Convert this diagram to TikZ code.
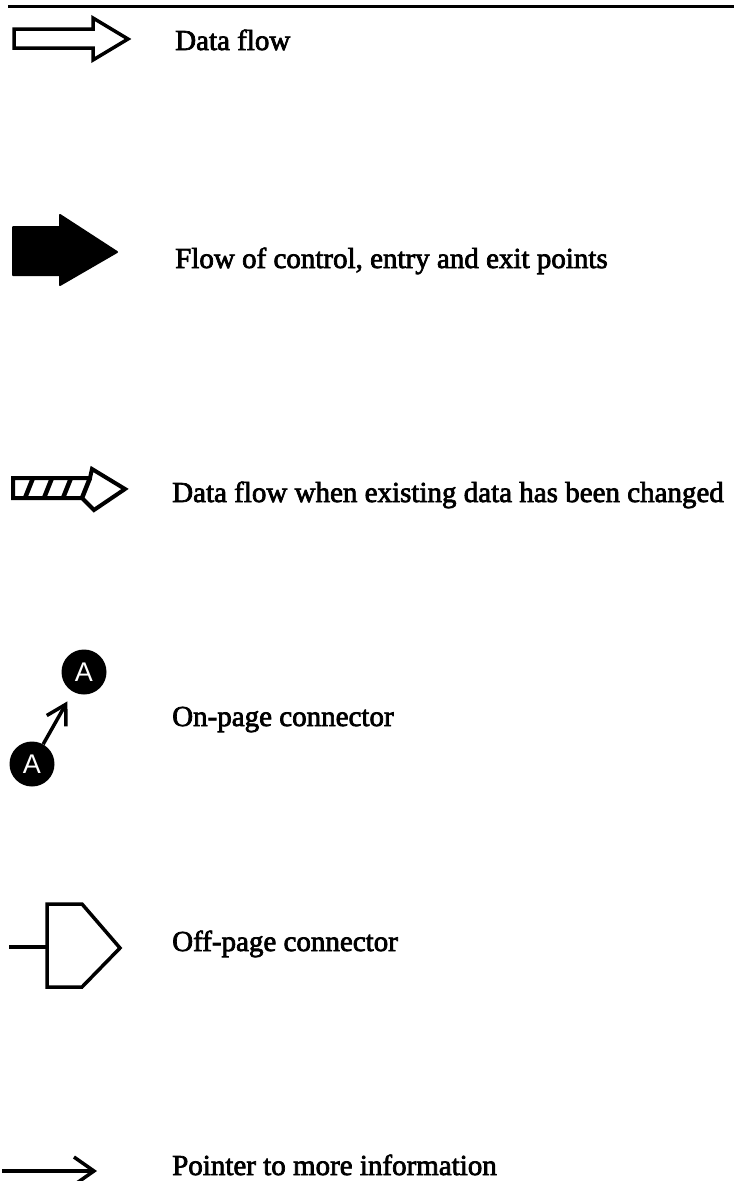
\documentclass[tikz,border=0pt]{standalone}
\usepackage{fontspec}
\newfontfamily\labfont{Liberation Serif}[FakeBold=2.5]
\newfontfamily\connfont{Liberation Sans}
\usetikzlibrary{arrows.meta}
\begin{document}
\begin{tikzpicture}[x=1pt,y=-1pt,
  lab/.style={anchor=base west, inner sep=0pt, font=\labfont\fontsize{29}{34}\selectfont},
  conn/.style={circle, fill=black, minimum size=45pt, inner sep=0pt, text=white,
    font=\connfont\fontsize{27}{30}\selectfont},
  outl/.style={draw=black, line width=3.5pt, line join=miter},
  thick line/.style={line width=3.5pt}]
\useasboundingbox (0,0) rectangle (734,1181);
\fill[white] (0,0) rectangle (734,1181);
% top rule
\coordinate (rl) at (8,6);
\coordinate (rr) at (734,6);
\draw[line width=3pt] (rl) -- (rr);
% data flow (hollow arrow)
\draw[outl] (14,29) -- (93,29) -- (93,18) -- (128,39) -- (93,60) -- (93,48) -- (14,48) -- cycle;
\node[lab] (t1) at (175,50) {Data flow};
% flow of control (solid arrow)
\filldraw[line width=2pt, line join=round] (13,227) -- (60,227) -- (60,215) -- (117,252) -- (60,285) -- (60,275) -- (13,275) -- cycle;
\node[lab] (t2) at (175,268) {Flow of control, entry and exit points};
% changed data (hatched arrow)
\draw[outl, line width=4pt] (13,478) -- (90,478) -- (92,469) -- (125,489) -- (94,510) -- (82,498) -- (13,498) -- cycle;
\foreach \x in {25,44,63,82} \draw[line width=4.5pt] (\x,498) -- (\x+8,478);
\node[lab] (t3) at (172,502) {Data flow when existing data has been changed};
% on-page connector
\node[conn] (ca) at (84,672) {A};
\node[conn] (cb) at (32,764) {A};
\draw[thick line, -{Straight Barb[length=19pt,width=22pt]}, shorten >=11pt] (cb) -- (ca);
\node[lab] (t4) at (172,726) {On-page connector};
% off-page connector
\draw[outl, thick line] (47,904) -- (82,904) -- (120,948) -- (82,987) -- (47,987) -- cycle;
\coordinate (offin) at (47,947);
\coordinate (offstart) at (9,947);
\draw[thick line] (offstart) -- (offin);
\node[lab] (t5) at (172,951) {Off-page connector};
% pointer
\coordinate (p1) at (2,1171);
\coordinate (p2) at (97,1171);
\draw[line width=3.5pt, -{Straight Barb[length=20pt,width=28pt]}] (p1) -- (p2);
\node[lab] (t6) at (172,1175) {Pointer to more information};
\end{tikzpicture}
\end{document}
